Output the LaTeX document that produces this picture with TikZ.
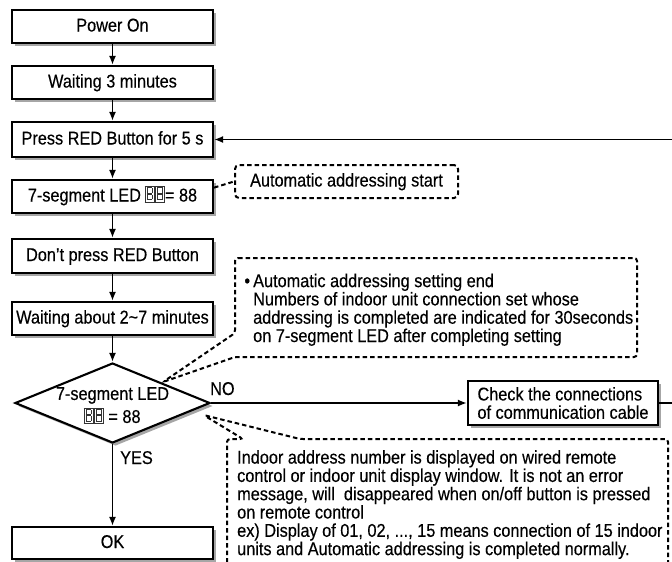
\documentclass[tikz,border=0pt]{standalone}
\usepackage{fontspec}
\setmainfont{Liberation Sans}[FakeStretch=0.88,FakeBold=0.3]
\usetikzlibrary{arrows.meta,shapes.geometric,shadows,calc}
\newcommand\ledicon{{\color{black!80}\setlength{\unitlength}{1pt}\linethickness{0.9pt}%
\begin{picture}(19.5,13)(0,-1)%
\put(0,-1.5){\framebox(8.5,15){}}\put(2.4,1.2){\framebox(3.7,4.6){}}\put(2.4,7.6){\framebox(3.7,4.6){}}%
\put(10.5,-1.5){\framebox(8.5,15){}}\put(12.9,1.2){\framebox(3.7,4.6){}}\put(12.9,7.6){\framebox(3.7,4.6){}}%
\end{picture}}}
\begin{document}
\begin{tikzpicture}[x=1pt,y=-1pt,
  font=\fontsize{18.5}{18.3}\selectfont,
  shad/.style={drop shadow={shadow xshift=3pt,shadow yshift=-3pt,fill=black!35,opacity=1}},
  box/.style={draw,line width=2.1pt,minimum width=201pt,minimum height=33pt,inner sep=0pt,
    text height=13pt,text depth=3pt,fill=white,shad},
  arr/.style={line width=1.9pt,-{Latex[length=9pt,width=7pt]}},
  dsh/.style={line width=2pt,dash pattern=on 4.5pt off 3pt},
  lbl/.style={inner sep=0pt}]
\useasboundingbox (0,0) rectangle (672,562);
% main column
\node[box] (p1) at (112.5,26.5) {Power On};
\node[box] (p2) at (112.5,82.5) {Waiting 3 minutes};
\node[box,minimum height=35pt] (p3) at (112.5,139.5) {Press RED Button for 5 s};
\node[box] (p4) at (112.5,196.5) {7-segment LED \ledicon= 88};
\node[box,minimum height=34pt] (p5) at (112.5,256) {Don't press RED Button};
\node[box] (p6) at (112.5,318.5) {Waiting about 2\textasciitilde 7 minutes};
\node[diamond,draw,line width=2.1pt,minimum width=195pt,minimum height=80pt,inner sep=0pt,
  fill=white,shad] (d) at (112.5,403) {};
\node[lbl,align=center,anchor=north,font=\fontsize{18.5}{23}\selectfont] (dt) at (112.5,387)
  {7-segment LED\\\ledicon\ = 88};
\node[box,minimum height=32pt] (ok) at (112.5,543) {OK};
\node[draw,line width=2.1pt,minimum width=190pt,minimum height=44pt,inner sep=0pt,align=left,
  fill=white,shad] (chk) at (563,403) {Check the connections\\of communication cable};
% labels
\node[lbl,anchor=base west] (yes) at (120,464) {YES};
\node[lbl,anchor=base west] (no) at (210,395) {NO};
% arrows
\draw[arr] (p1.south) -- (p2.north);
\draw[arr] (p2.south) -- (p3.north);
\draw[arr] (p3.south) -- (p4.north);
\draw[arr] (p4.south) -- (p5.north);
\draw[arr] (p5.south) -- (p6.north);
\draw[arr] (p6.south) -- (d.north);
\draw[arr] (d.south) -- (ok.north);
\draw[arr] (d.east) -- (chk.west);
\draw[arr] (chk.east) -- ++(40,0) |- (p3.east);
% callout 1
\node[draw,dsh,rounded corners=4pt,minimum width=223pt,minimum height=33pt,inner sep=0pt,
  text height=13pt,text depth=3pt] (c1) at (346.5,181.5) {Automatic addressing start};
\draw[dsh] (p4.5) -- (c1.west);
% callout 2
\coordinate (t2) at ($(d.center)+(50.5,-21)$);
\draw[dsh,rounded corners=3pt] (235,258) -- (637,258) -- (637,357) -- (235,357) -- (t2) -- (235,333) -- cycle;
\node[lbl,anchor=north west,align=left] (c2t) at (253,273.5)
  {\llap{•\,}Automatic addressing setting end\\
   Numbers of indoor unit connection set whose\\
   addressing is completed are indicated for 30seconds\\
   on 7-segment LED after completing setting};
% callout 3
\coordinate (t3) at ($(d.center)+(91,12)$);
\draw[dsh,rounded corners=3pt] (227,585) -- (227,439) -- (243,439) -- (t3) -- (300,439) -- (668,439) -- (668,585);
\node[lbl,anchor=north west,align=left] (c3t) at (237,450)
  {Indoor address number is displayed on wired remote\\
   control or indoor unit display window. It is not an error\\
   message, will\ \ disappeared when on/off button is pressed\\
   on remote control\\
   ex) Display of 01, 02, ..., 15 means connection of 15 indoor\\
   units and Automatic addressing is completed normally.};
\end{tikzpicture}
\end{document}
